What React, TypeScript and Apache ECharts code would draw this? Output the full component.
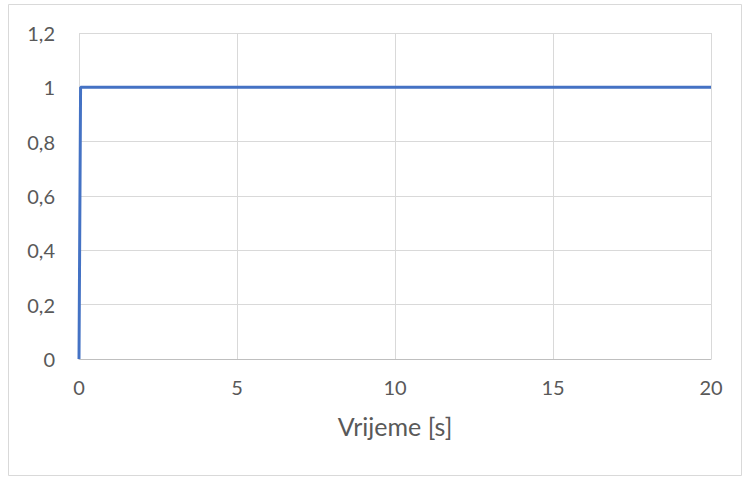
import React, { useEffect, useRef } from "react";
import * as echarts from "echarts";

const timeValues = [0, 0.05, 20];
const responseValues = [0, 1, 1];
const xTicks = { min: 0, max: 20, interval: 5 };
const yTicks = { min: 0, max: 1.2, interval: 0.2 };
const xAxisTitle = "Vrijeme [s]";

export default function App() {
  const ref = useRef<HTMLDivElement>(null);
  useEffect(() => {
    if (!ref.current) return;
    const chart = echarts.init(ref.current, undefined, { renderer: "svg" });
    const font = "Lato, 'Open Sans', sans-serif";
    chart.setOption({
      animation: false,
      backgroundColor: "#ffffff",
      textStyle: { fontFamily: font },
      graphic: [
        {
          type: "rect",
          shape: { x: 8.5, y: 4.5, width: 733, height: 471 },
          style: { fill: "none", stroke: "#d9d9d9", lineWidth: 1 },
          silent: true,
        },
      ],
      grid: { left: 79, right: 32, top: 33, bottom: 118, containLabel: false },
      xAxis: {
        type: "value",
        min: xTicks.min,
        max: xTicks.max,
        interval: xTicks.interval,
        name: xAxisTitle,
        nameLocation: "middle",
        nameGap: 54,
        nameTextStyle: { fontSize: 25, color: "#595959", fontFamily: font },
        axisLine: { show: true, lineStyle: { color: "#bfbfbf", width: 1 } },
        axisTick: { show: false },
        axisLabel: { color: "#595959", fontSize: 20, margin: 18, fontFamily: font },
        splitLine: { show: true, lineStyle: { color: "#d9d9d9", width: 1 } },
      },
      yAxis: {
        type: "value",
        min: yTicks.min,
        max: yTicks.max,
        interval: yTicks.interval,
        axisLine: { show: false },
        axisTick: { show: false },
        axisLabel: {
          color: "#595959",
          fontSize: 20,
          margin: 24,
          fontFamily: font,
          formatter: (v: number) => String(parseFloat(v.toFixed(2))).replace(".", ","),
        },
        splitLine: { show: true, lineStyle: { color: "#d9d9d9", width: 1 } },
      },
      series: [
        {
          type: "line",
          data: timeValues.map((t, i) => [t, responseValues[i]]),
          showSymbol: false,
          symbol: "none",
          lineStyle: { color: "#4472C4", width: 3 },
          itemStyle: { color: "#4472C4" },
        },
      ],
    });
    return () => chart.dispose();
  }, []);
  return (
    <div
      ref={ref}
      style={{ position: "fixed", left: 0, top: 0, width: 743, height: 477 }}
    />
  );
}
